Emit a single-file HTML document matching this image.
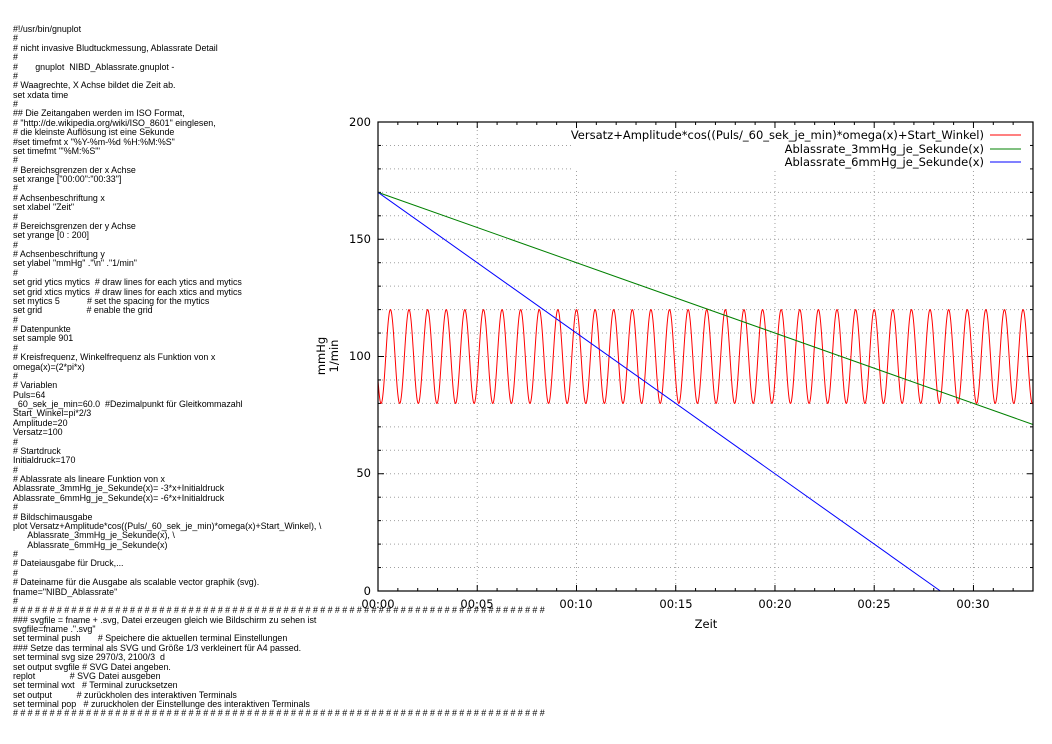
<!DOCTYPE html>
<html><head><meta charset="utf-8"><style>
html,body{margin:0;padding:0;background:#fff;width:1052px;height:744px;overflow:hidden}
#src{position:absolute;left:13px;top:25px;font-family:"Liberation Sans",sans-serif;font-size:8.9px;line-height:9.37px;white-space:pre;color:#000}
.h{letter-spacing:2.38px}
svg{position:absolute;left:0;top:0}
svg text{font-family:"DejaVu Sans",sans-serif;font-size:11.5px;fill:#000}
</style></head><body>
<svg id="s" width="1052" height="744" viewBox="0 0 1052 744">
<g id="grid" stroke="#a0a0a0" stroke-width="1" stroke-dasharray="1,3"></g>
<rect x="573" y="123" width="459" height="47" fill="#fff"/>
<g id="ticks" stroke="#000" stroke-width="1"></g>
<g id="curves" fill="none" stroke-width="1"></g>
<rect x="378" y="122" width="655" height="469" fill="none" stroke="#000" stroke-width="1.2"/>
<g text-anchor="end">
<text x="371" y="126">200</text>
<text x="371" y="243">150</text>
<text x="371" y="360">100</text>
<text x="371" y="477">50</text>
<text x="371" y="595">0</text>
</g>
<g text-anchor="middle">
<text x="378" y="608">00:00</text>
<text x="477" y="608">00:05</text>
<text x="576" y="608">00:10</text>
<text x="676" y="608">00:15</text>
<text x="775" y="608">00:20</text>
<text x="874" y="608">00:25</text>
<text x="973" y="608">00:30</text>
<text x="706" y="628">Zeit</text>
<text transform="translate(325,356) rotate(-90)">mmHg</text>
<text transform="translate(338,356) rotate(-90)">1/min</text>
</g>
<g text-anchor="end">
<text x="984" y="139">Versatz+Amplitude*cos((Puls/_60_sek_je_min)*omega(x)+Start_Winkel)</text>
<text x="984" y="153">Ablassrate_3mmHg_je_Sekunde(x)</text>
<text x="984" y="166">Ablassrate_6mmHg_je_Sekunde(x)</text>
</g>
<line x1="990" y1="135" x2="1021" y2="135" stroke="#ff0000"/>
<line x1="990" y1="149" x2="1021" y2="149" stroke="#008000"/>
<line x1="990" y1="162" x2="1021" y2="162" stroke="#0000ff"/>
</svg>
<div id="src">#!/usr/bin/gnuplot
#
# nicht invasive Bludtuckmessung, Ablassrate Detail
#
#       gnuplot  NIBD_Ablassrate.gnuplot -
#
# Waagrechte, X Achse bildet die Zeit ab.
set xdata time
#
## Die Zeitangaben werden im ISO Format,
# "http://de.wikipedia.org/wiki/ISO_8601" einglesen,
# die kleinste Auflösung ist eine Sekunde
#set timefmt x "%Y-%m-%d %H:%M:%S"
set timefmt '"%M:%S"'
#
# Bereichsgrenzen der x Achse
set xrange ["00:00":"00:33"]
#
# Achsenbeschriftung x
set xlabel "Zeit"
#
# Bereichsgrenzen der y Achse
set yrange [0 : 200]
#
# Achsenbeschriftung y
set ylabel "mmHg" ."\n" ."1/min"
#
set grid ytics mytics  # draw lines for each ytics and mytics
set grid xtics mytics  # draw lines for each xtics and mytics
set mytics 5           # set the spacing for the mytics
set grid                  # enable the grid
#
# Datenpunkte
set sample 901
#
# Kreisfrequenz, Winkelfrequenz als Funktion von x
omega(x)=(2*pi*x)
#
# Variablen
Puls=64
_60_sek_je_min=60.0  #Dezimalpunkt für Gleitkommazahl
Start_Winkel=pi*2/3
Amplitude=20
Versatz=100
#
# Startdruck
Initialdruck=170
#
# Ablassrate als lineare Funktion von x
Ablassrate_3mmHg_je_Sekunde(x)= -3*x+Initialdruck
Ablassrate_6mmHg_je_Sekunde(x)= -6*x+Initialdruck
#
# Bildschimausgabe
plot Versatz+Amplitude*cos((Puls/_60_sek_je_min)*omega(x)+Start_Winkel), \
      Ablassrate_3mmHg_je_Sekunde(x), \
      Ablassrate_6mmHg_je_Sekunde(x)
#
# Dateiausgabe für Druck,...
#
# Dateiname für die Ausgabe als scalable vector graphik (svg).
fname="NIBD_Ablassrate"
#
<span class="h">#########################################################################</span>
### svgfile = fname + .svg, Datei erzeugen gleich wie Bildschirm zu sehen ist
svgfile=fname .".svg"
set terminal push       # Speichere die aktuellen terminal Einstellungen
### Setze das terminal als SVG und Größe 1/3 verkleinert für A4 passed.
set terminal svg size 2970/3, 2100/3  d
set output svgfile # SVG Datei angeben.
replot              # SVG Datei ausgeben
set terminal wxt   # Terminal zurucksetzen
set output          # zurückholen des interaktiven Terminals
set terminal pop   # zuruckholen der Einstellunge des interaktiven Terminals
<span class="h">#########################################################################</span></div>
<script>
var NS="http://www.w3.org/2000/svg",X0=378,X1=1033,Y0=591,Y1=122;
function px(t){return X0+t*(X1-X0)/33}
function py(v){return Y0-v*(Y0-Y1)/200}
function el(p,tag,a){var e=document.createElementNS(NS,tag);for(var k in a)e.setAttribute(k,a[k]);p.appendChild(e);return e}
var g=document.getElementById('grid'),tk=document.getElementById('ticks'),c=document.getElementById('curves');
for(var v=10;v<200;v+=10){var y=py(v);
 if(y<171) { el(g,'line',{x1:X0,y1:y,x2:573,y2:y}); } else el(g,'line',{x1:X0,y1:y,x2:X1,y2:y});
 var L=(v%50==0)?6:3; el(tk,'line',{x1:X0,y1:y,x2:X0+L,y2:y}); el(tk,'line',{x1:X1,y1:y,x2:X1-L,y2:y});}
for(var t=1;t<33;t++){var x=px(t);
 if(t%5==0){ el(g,'line',{x1:x,y1:(x>572?171:Y1),x2:x,y2:Y0}); }
 var L=(t%5==0)?6:3; el(tk,'line',{x1:x,y1:Y0,x2:x,y2:Y0-L}); el(tk,'line',{x1:x,y1:Y1,x2:x,y2:Y1+L});}
var d="";for(var i=0;i<=3300;i++){var t=i*33/3300;var v=100+20*Math.cos(64/60*2*Math.PI*t+2*Math.PI/3);d+=(i?"L":"M")+px(t).toFixed(2)+","+py(v).toFixed(2);}
el(c,'path',{d:d,stroke:'#ff0000'});
el(c,'line',{x1:px(0),y1:py(170),x2:px(33),y2:py(71),stroke:'#008000'});
el(c,'line',{x1:px(0),y1:py(170),x2:px(170/6),y2:py(0),stroke:'#0000ff'});
</script>
</body></html>
